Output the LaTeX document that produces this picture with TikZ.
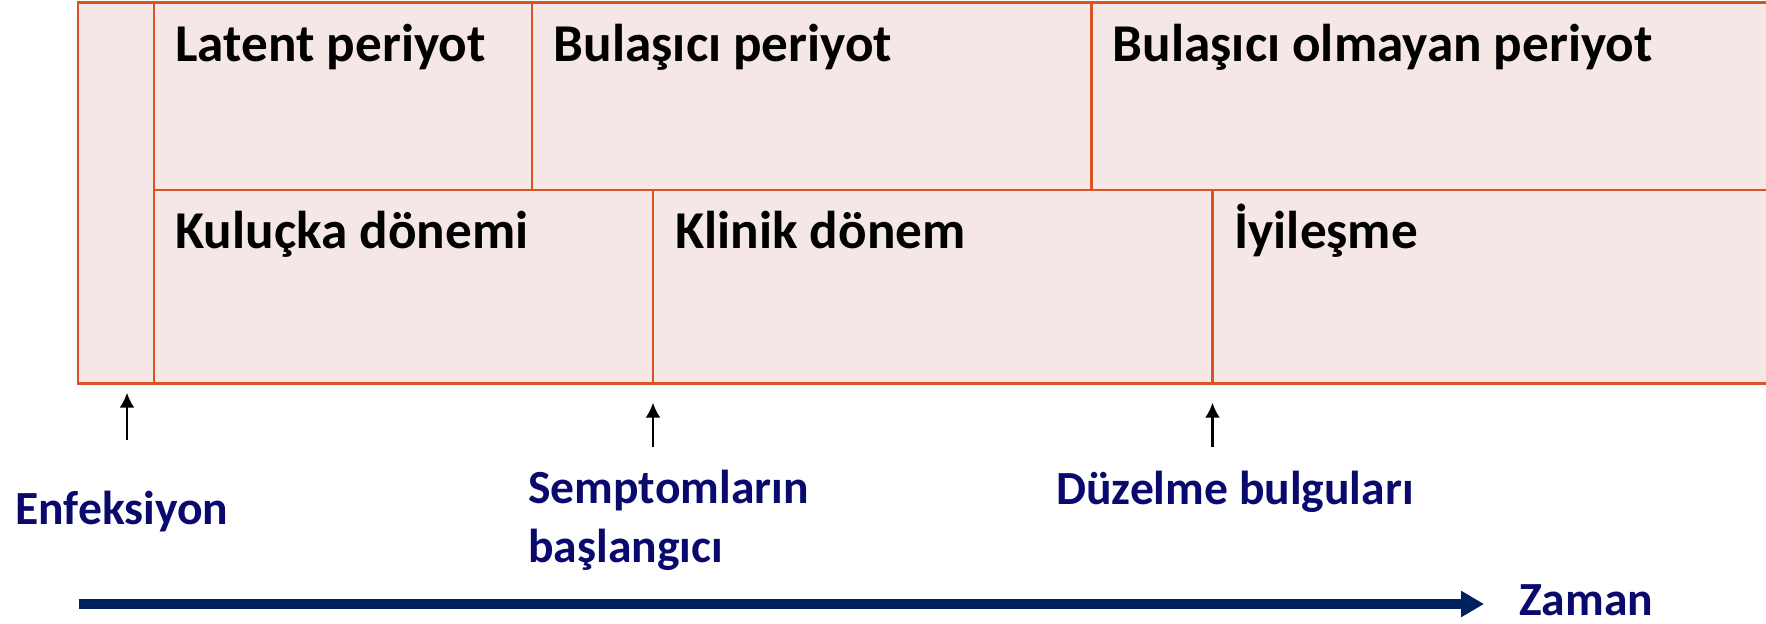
\documentclass[tikz,border=0pt]{standalone}
\usepackage{fontspec}
\setmainfont{Carlito}
\usepackage{xcolor}
\usetikzlibrary{arrows.meta,positioning}
\definecolor{gridline}{RGB}{217,84,34}
\definecolor{cellfill}{RGB}{246,231,231}
\definecolor{navy}{RGB}{0,32,96}
\definecolor{labelblue}{RGB}{10,10,110}

\begin{document}
\begin{tikzpicture}[
x=0.5pt,y=-0.5pt,
grid/.style={draw=gridline,line width=1.35pt},
phase/.style={anchor=base west,inner sep=0pt,font=\bfseries\fontsize{26.6}{31}\selectfont},
event/.style={anchor=base west,inner sep=0pt,align=left,text=labelblue,font=\bfseries\fontsize{23.8}{29.5}\selectfont},
tick/.style={-{Latex[length=7.5pt,width=7.5pt]},line width=1.2pt},
timeline/.style={-{Triangle[length=11.5pt,width=12.5pt]},line width=5pt,draw=navy}
]
\useasboundingbox (0,0) rectangle (1766,623);
% table of periods
\fill[cellfill] (78,2.5) rectangle (1766,383.5);
\draw[grid] (1766,2.5) -| (78,383.5) -- (1766,383.5);
\draw[grid] (154,2.5) -- (154,383.5);
\draw[grid] (154,190) -- (1766,190);
\foreach \x in {532,1091.5} \draw[grid] (\x,2.5) -- (\x,190);
\foreach \x in {653,1212.5} \draw[grid] (\x,190) -- (\x,383.5);
\node[phase] (latent) at (175,61.7) {Latent periyot};
\node[phase] (bulasici) at (553.5,61.7) {Bulaşıcı periyot};
\node[phase] (bulasmayan) at (1112.5,61.7) {Bulaşıcı olmayan periyot};
\node[phase] (kulucka) at (175,248.3) {Kuluçka dönemi};
\node[phase] (klinik) at (675,248.3) {Klinik dönem};
\node[phase] (iyilesme) at (1234,248.3) {İyileşme};
% events
\node[event] (enfeksiyon) at (15,524) {Enfeksiyon};
\node[event] (semptom) at (528,562) {Semptomların\\başlangıcı};
\node[event] (duzelme) at (1056,504) {Düzelme bulguları};
\coordinate (enf-tail) at (127,440);
\coordinate (enf-tip) at (127,392.7);
\coordinate (sem-tail) at (653,447);
\coordinate (sem-tip) at (653,402.7);
\coordinate (duz-tail) at (1212.5,447);
\coordinate (duz-tip) at (1212.5,402.7);
\draw[tick] (enf-tail) -- (enf-tip);
\draw[tick] (sem-tail) -- (sem-tip);
\draw[tick] (duz-tail) -- (duz-tip);
% time axis
\node[event] (zaman) at (1519,615) {Zaman};
\coordinate (t-start) at (78.5,604);
\coordinate (t-end) at (1484,604);
\draw[timeline] (t-start) -- (t-end);
\end{tikzpicture}
\end{document}
